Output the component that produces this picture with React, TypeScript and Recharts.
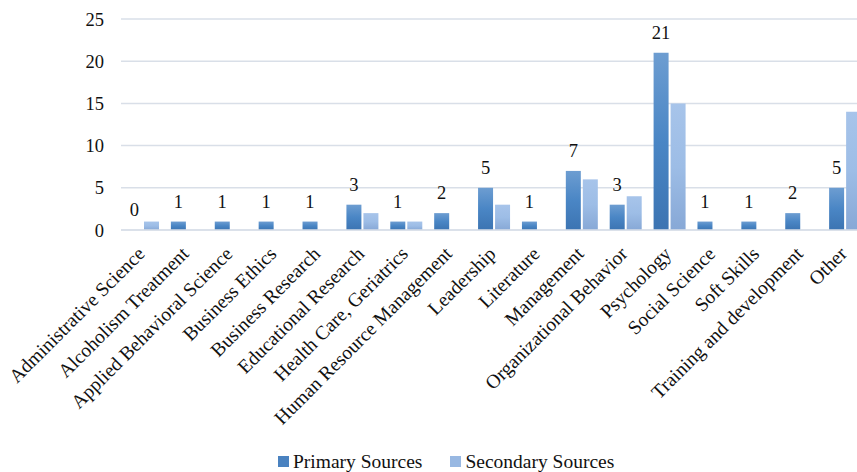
import React from "react"
import { ComposedChart, Bar, Line, XAxis, YAxis, CartesianGrid, Legend, LabelList } from "recharts"

const categories = [
  "Administrative Science",
  "Alcoholism Treatment",
  "Applied Behavioral Science",
  "Business Ethics",
  "Business Research",
  "Educational Research",
  "Health Care, Geriatrics",
  "Human Resource Management",
  "Leadership",
  "Literature",
  "Management",
  "Organizational Behavior",
  "Psychology",
  "Social Science",
  "Soft Skills",
  "Training and development",
  "Other",
]
const primarySources = [0, 1, 1, 1, 1, 3, 1, 2, 5, 1, 7, 3, 21, 1, 1, 2, 5]
const secondarySources = [1, 0, 0, 0, 0, 2, 1, 0, 3, 0, 6, 4, 15, 0, 0, 0, 14]
const yTicks = [0, 5, 10, 15, 20, 25]

const data = categories.map((name, i) => ({
  name,
  primary: primarySources[i],
  secondary: secondarySources[i],
}))

const FONT = "'Liberation Serif', 'Times New Roman', serif"
const PRIMARY = "#4a82c0"
const SECONDARY = "#98b8e2"
const BAR = 15
const GAP = 2

function AngledTick({ x, y, payload }: any) {
  const ax = x + 3
  const ay = y + 17
  return (
    <text
      x={ax}
      y={ay}
      transform={`rotate(-45 ${ax} ${ay})`}
      textAnchor="end"
      fontFamily={FONT}
      fontSize={19.5}
      fill="#111"
    >
      {payload.value}
    </text>
  )
}

// primary value label, placed over the left bar of each pair (0 included)
function TopLabel({ x, y, value }: any) {
  return (
    <text
      x={x - (BAR + GAP) / 2}
      y={y - 14}
      textAnchor="middle"
      fontFamily={FONT}
      fontSize={18.5}
      fill="#111"
    >
      {value}
    </text>
  )
}

function LegendBox() {
  const item = (color: string, label: string, gap: number) => (
    <div style={{ display: "flex", alignItems: "center", marginRight: gap }}>
      <span style={{ width: 11, height: 11, background: color, marginRight: 4 }} />
      <span>{label}</span>
    </div>
  )
  return (
    <div
      style={{
        display: "flex",
        alignItems: "center",
        fontFamily: FONT,
        fontSize: 19.5,
        color: "#111",
        height: 30,
        paddingTop: 9,
        boxSizing: "border-box",
      }}
    >
      {item(PRIMARY, "Primary Sources", 28)}
      {item(SECONDARY, "Secondary Sources", 0)}
    </div>
  )
}

export default function App() {
  return (
    <div
      style={{
        position: "absolute",
        left: 0,
        top: 0,
        width: 857,
        height: 472,
        overflow: "hidden",
        background: "#fff",
      }}
    >
      <ComposedChart
        width={870}
        height={472}
        data={data}
        margin={{ top: 19, right: 3, left: 0, bottom: 0 }}
        barSize={BAR}
        barGap={GAP}
      >
        <defs>
          <linearGradient id="gradPrimary" x1="0" y1="0" x2="0" y2="1">
            <stop offset="0%" stopColor="#6d9dd1" />
            <stop offset="50%" stopColor="#4a86c5" />
            <stop offset="100%" stopColor="#3c74b2" />
          </linearGradient>
          <linearGradient id="gradSecondary" x1="0" y1="0" x2="0" y2="1">
            <stop offset="0%" stopColor="#a7c4ea" />
            <stop offset="50%" stopColor="#9dbde6" />
            <stop offset="100%" stopColor="#87a8d6" />
          </linearGradient>
        </defs>
        <CartesianGrid vertical={false} stroke="#d9dfe8" strokeWidth={1.5} />
        <XAxis
          dataKey="name"
          interval={0}
          height={212}
          tickLine={false}
          axisLine={{ stroke: "#d9dfe8", strokeWidth: 1.5 }}
          tick={<AngledTick />}
        />
        <YAxis
          width={121}
          domain={[0, 25]}
          ticks={yTicks}
          tickLine={false}
          axisLine={false}
          tickMargin={11}
          tick={{ fontFamily: FONT, fontSize: 18.5, fill: "#111" }}
        />
        <Legend
          verticalAlign="bottom"
          content={<LegendBox />}
          wrapperStyle={{ left: 278, width: "auto", height: 30 }}
        />
        <Bar dataKey="primary" name="Primary Sources" fill="url(#gradPrimary)" isAnimationActive={false} />
        <Bar dataKey="secondary" name="Secondary Sources" fill="url(#gradSecondary)" isAnimationActive={false} />
        <Line
          dataKey="primary"
          stroke="none"
          dot={false}
          activeDot={false}
          legendType="none"
          isAnimationActive={false}
        >
          <LabelList dataKey="primary" content={<TopLabel />} />
        </Line>
      </ComposedChart>
    </div>
  )
}
